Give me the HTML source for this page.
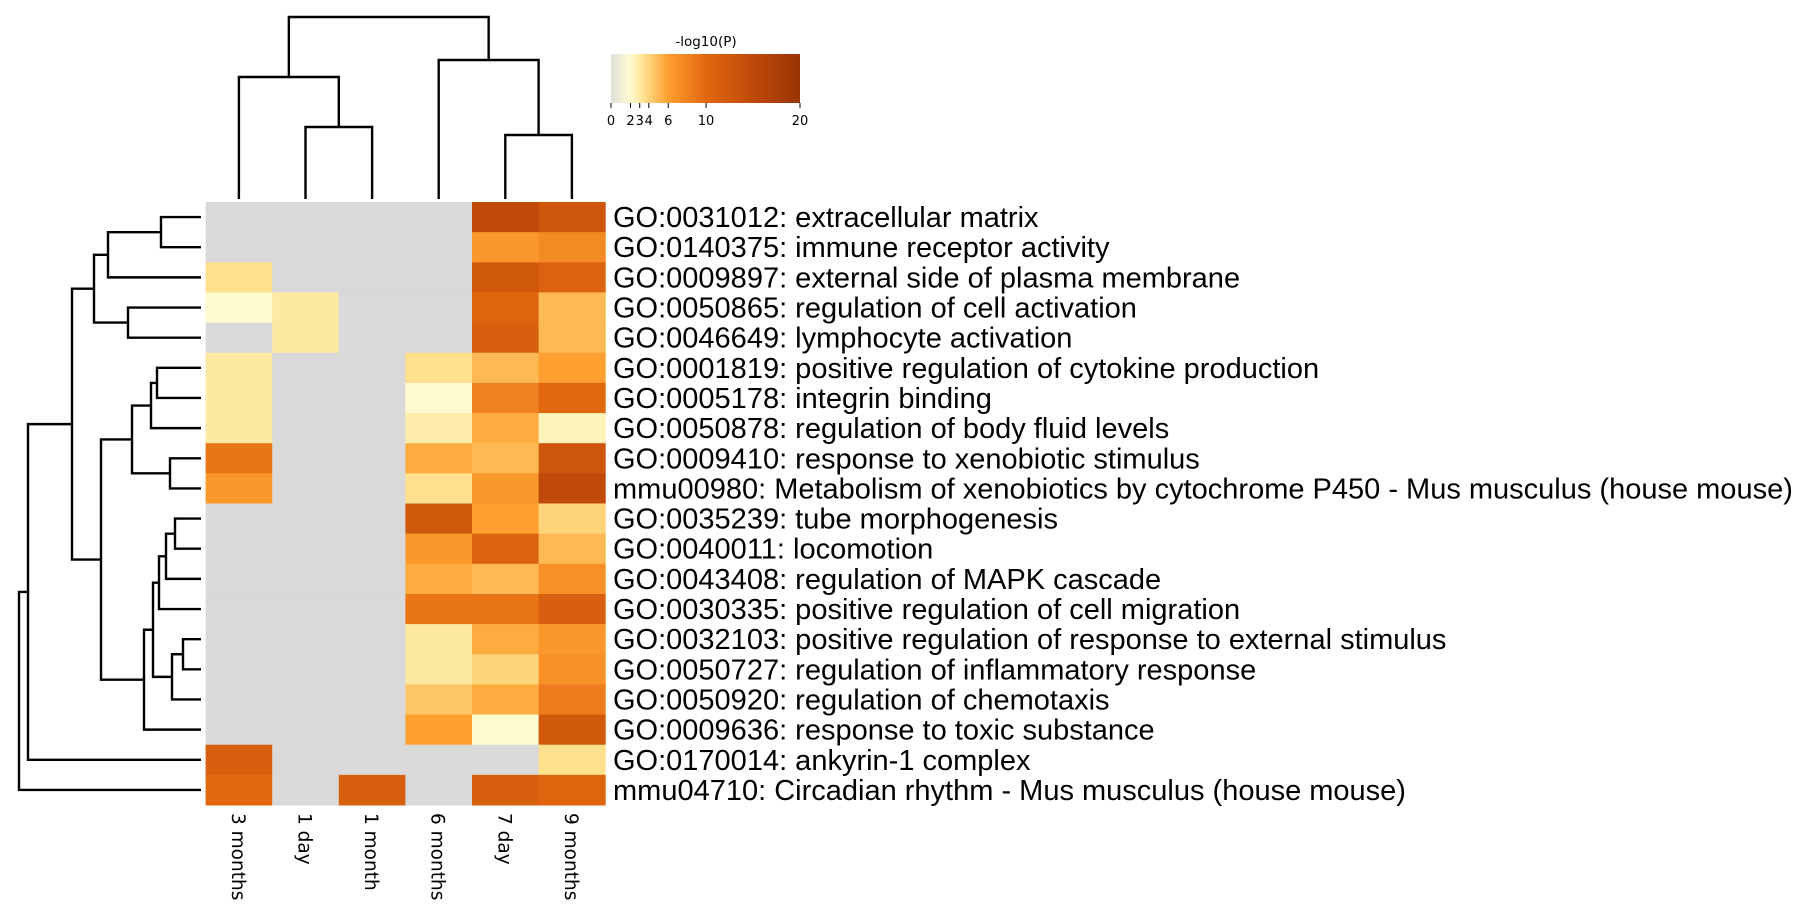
<!DOCTYPE html>
<html><head><meta charset="utf-8"><style>
html,body{margin:0;padding:0;background:#fff;}
svg{display:block;}
</style></head><body>
<svg id="chart" width="1811" height="912" viewBox="0 0 1811 912" xmlns="http://www.w3.org/2000/svg"></svg>
<script>
const columns = ["3 months","1 day","1 month","6 months","7 day","9 months"];
const rowLabels = [
"GO:0031012: extracellular matrix",
"GO:0140375: immune receptor activity",
"GO:0009897: external side of plasma membrane",
"GO:0050865: regulation of cell activation",
"GO:0046649: lymphocyte activation",
"GO:0001819: positive regulation of cytokine production",
"GO:0005178: integrin binding",
"GO:0050878: regulation of body fluid levels",
"GO:0009410: response to xenobiotic stimulus",
"mmu00980: Metabolism of xenobiotics by cytochrome P450 - Mus musculus (house mouse)",
"GO:0035239: tube morphogenesis",
"GO:0040011: locomotion",
"GO:0043408: regulation of MAPK cascade",
"GO:0030335: positive regulation of cell migration",
"GO:0032103: positive regulation of response to external stimulus",
"GO:0050727: regulation of inflammatory response",
"GO:0050920: regulation of chemotaxis",
"GO:0009636: response to toxic substance",
"GO:0170014: ankyrin-1 complex",
"mmu04710: Circadian rhythm - Mus musculus (house mouse)"];
const values = [
[null,null,null,null,15,13],
[null,null,null,null,6.5,7.5],
[3.5,null,null,null,12.5,11],
[2,3,null,null,10.5,5],
[null,3,null,null,11.5,5],
[3,null,null,3.5,5,6],
[3,null,null,2,8,10],
[3,null,null,2.8,5.5,2.5],
[9,null,null,5.5,5,13],
[6.5,null,null,3.5,6.5,15]
,[null,null,null,12.5,6,4],
[null,null,null,6.5,11,5],
[null,null,null,5.5,5,7],
[null,null,null,9,9,11.5],
[null,null,null,3,5.5,6.5],
[null,null,null,3,4,7],
[null,null,null,4.5,5.5,8.5],
[null,null,null,6,2,12.5],
[11.5,null,null,null,null,3.5],
[10,null,11.5,null,11.5,10.5]];
const cbTicks = [0,2,3,4,6,10,20];
const cbFracs = [0,0.103,0.152,0.2,0.303,0.503,1];
const rowMerges = [
[0,1,161],["n0",2,108],[3,4,128],["n1","n2",94],
[5,6,157],["n4",7,151],[8,9,170],["n5","n6",132],
[10,11,175],["n8",12,166],["n9",13,159],[14,15,183],["n11",16,172],["n10","n12",153],["n13",17,144],
["n7","n14",101],["n3","n15",72],["n16",18,28],["n17",19,19]];
const colMerges = [[1,2,127],[4,5,135],[0,"n0",77],[3,"n1",60],["n2","n3",17]];

const svg = document.getElementById('chart');
const NS = "http://www.w3.org/2000/svg";
const HX0=205.6, HX1=605.2, HY0=202, HY1=805;
const cw=(HX1-HX0)/columns.length, rh=(HY1-HY0)/rowLabels.length;
const xCol = j => HX0 + cw*j;
const yRow = i => HY0 + rh*i;
const stops=[[0,[222,222,214]],[0.1,[255,252,210]],[0.17,[254,227,145]],[0.3,[254,160,48]],[0.5,[226,104,15]],[0.75,[191,74,10]],[1,[153,52,4]]];
function frac(v){for(let k=1;k<cbTicks.length;k++){if(v<=cbTicks[k]){return cbFracs[k-1]+(v-cbTicks[k-1])/(cbTicks[k]-cbTicks[k-1])*(cbFracs[k]-cbFracs[k-1]);}}return 1;}
function colorAt(f){for(let k=1;k<stops.length;k++){if(f<=stops[k][0]){const t=(f-stops[k-1][0])/(stops[k][0]-stops[k-1][0]);const a=stops[k-1][1],b=stops[k][1];return `rgb(${a.map((c,i)=>Math.round(c+(b[i]-c)*t)).join(',')})`;}}return 'rgb(153,52,4)';}
function mk(tag,attrs,parent){const e=document.createElementNS(NS,tag);for(const k in attrs)e.setAttribute(k,attrs[k]);(parent||svg).appendChild(e);return e;}

const gCells = mk('g',{});


values.forEach((row,i)=>row.forEach((v,j)=>{
  const r=mk('rect',{x:xCol(j),y:yRow(i),width:cw+0.5,height:rh+0.5,fill:v==null?'#d9d9d9':colorAt(frac(v))},gCells);
  
  
}));
rowLabels.forEach((t,i)=>{
  const e=mk('text',{x:613,y:yRow(i)+rh/2+10,'font-family':'Liberation Sans, Arial, sans-serif','font-size':29,fill:'#000'});
  e.textContent=t;
  
  
});
columns.forEach((t,j)=>{
  const cx=xCol(j)+cw/2-7;
  const e=mk('text',{x:0,y:0,transform:`translate(${cx},813) rotate(90)`,'font-family':'DejaVu Sans, sans-serif','font-size':18.5,fill:'#000'});
  e.textContent=t;
  
  
});
const gD=mk('g',{stroke:'#000','stroke-width':2.4,fill:'none'});


const nodes={};
function nodeR(k){return typeof k==='number'?{y:yRow(k)+rh/2,x:201}:nodes[k];}
rowMerges.forEach((m,idx)=>{
  const a=nodeR(m[0]),b=nodeR(m[1]),x=m[2];
  mk('path',{d:`M${a.x},${a.y}H${x}V${b.y}H${b.x}`},gD);
  nodes['n'+idx]={x:x,y:(a.y+b.y)/2};
});
const gC=mk('g',{stroke:'#000','stroke-width':2.4,fill:'none'});


const cnodes={};
function nodeC(k){return typeof k==='number'?{x:xCol(k)+cw/2,y:199}:cnodes[k];}
colMerges.forEach((m,idx)=>{
  const a=nodeC(m[0]),b=nodeC(m[1]),y=m[2];
  mk('path',{d:`M${a.x},${a.y}V${y}H${b.x}V${b.y}`},gC);
  cnodes['n'+idx]={x:(a.x+b.x)/2,y:y};
});
const gL=mk('g',{});


const defs=mk('defs',{});
const lg=mk('linearGradient',{id:'cb',x1:0,x2:1,y1:0,y2:0},defs);
stops.forEach(s=>mk('stop',{offset:s[0],'stop-color':`rgb(${s[1].join(',')})`},lg));
const CB0=611,CB1=800;
mk('rect',{x:CB0,y:54,width:CB1-CB0,height:49,fill:'url(#cb)'},gL);
const tt=mk('text',{x:706,y:46,'text-anchor':'middle','font-family':'DejaVu Sans, sans-serif','font-size':13.5},gL);
tt.textContent='-log10(P)';
cbTicks.forEach((v,k)=>{
  const x=CB0+cbFracs[k]*(CB1-CB0);
  mk('line',{x1:x,x2:x,y1:103,y2:108,stroke:'#000','stroke-width':1},gL);
  const t=mk('text',{x:x,y:125,'text-anchor':'middle','font-family':'DejaVu Sans, sans-serif','font-size':13},gL);
  t.textContent=v;
  
  
});
</script>
</body></html>
